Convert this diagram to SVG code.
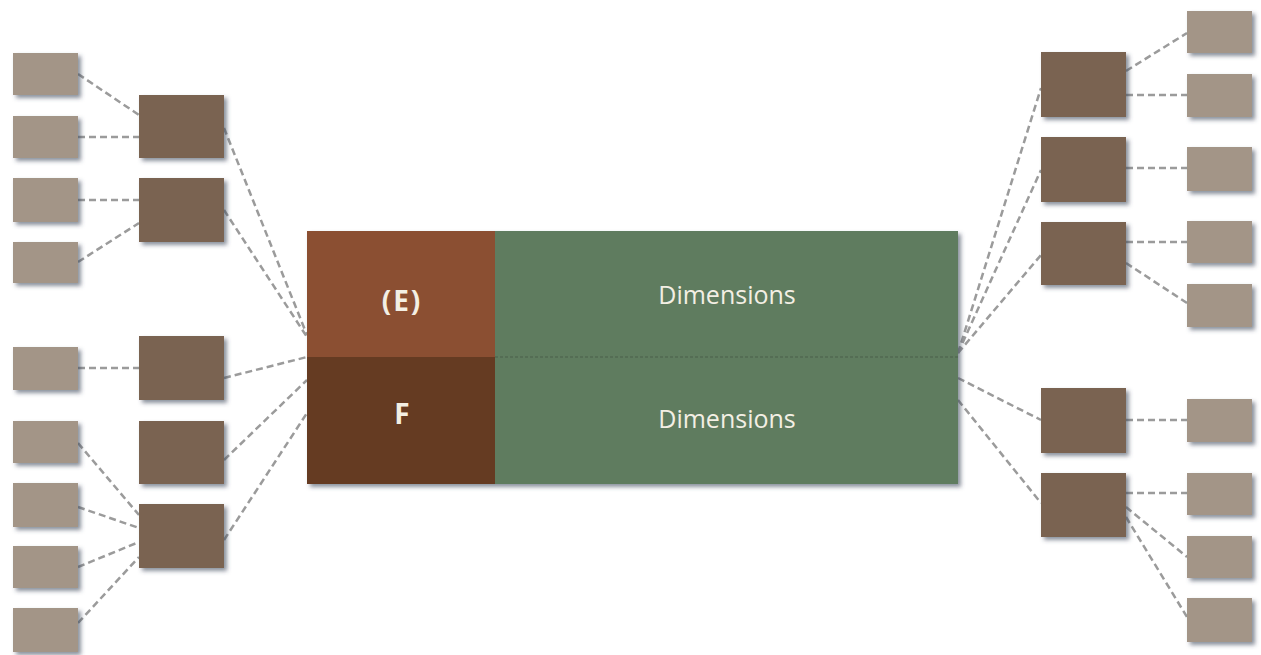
<svg xmlns="http://www.w3.org/2000/svg" width="1261" height="655" viewBox="0 0 1261 655">
<defs>
<filter id="sh" x="-20%" y="-20%" width="150%" height="150%">
<feDropShadow dx="3" dy="3" stdDeviation="2" flood-color="#3d4a5a" flood-opacity="0.6"/>
</filter>
<style>
.lt{fill:#a39587;filter:url(#sh)}
.dk{fill:#7a6451;filter:url(#sh)}
.cn line{stroke:#9b9b9b;stroke-width:2.5;stroke-dasharray:7 4;fill:none}
.lbl{font-family:"Open Sans","DejaVu Sans",sans-serif;fill:#f3efe4;text-anchor:middle}
.b{font-weight:bold;font-size:28px}
.d{font-size:25px}
</style>
</defs>
<rect width="1261" height="655" fill="#ffffff"/>

<g id="connectors" class="cn">
<line x1="78" y1="74" x2="139" y2="115"/>
<line x1="78" y1="137" x2="139" y2="137"/>
<line x1="78" y1="200" x2="139" y2="200"/>
<line x1="78" y1="262" x2="139" y2="223"/>
<line x1="78" y1="368" x2="139" y2="368"/>
<line x1="78" y1="443" x2="139" y2="515"/>
<line x1="78" y1="507" x2="139" y2="528"/>
<line x1="78" y1="567" x2="139" y2="542"/>
<line x1="78" y1="623" x2="139" y2="557"/>
<line x1="224" y1="128" x2="307" y2="335"/>
<line x1="224" y1="210" x2="307" y2="337"/>
<line x1="224" y1="378" x2="307" y2="357"/>
<line x1="224" y1="460" x2="307" y2="380"/>
<line x1="224" y1="540" x2="307" y2="413"/>
<line x1="958" y1="353" x2="1041" y2="88"/>
<line x1="958" y1="353" x2="1041" y2="170"/>
<line x1="958" y1="353" x2="1041" y2="255"/>
<line x1="958" y1="378" x2="1041" y2="420"/>
<line x1="958" y1="400" x2="1041" y2="503"/>
<line x1="1126" y1="71" x2="1187" y2="33"/>
<line x1="1126" y1="95" x2="1187" y2="95"/>
<line x1="1126" y1="168" x2="1187" y2="168"/>
<line x1="1126" y1="242" x2="1187" y2="242"/>
<line x1="1126" y1="263" x2="1187" y2="303"/>
<line x1="1126" y1="420" x2="1187" y2="420"/>
<line x1="1126" y1="493" x2="1187" y2="493"/>
<line x1="1126" y1="507" x2="1187" y2="557"/>
<line x1="1126" y1="517" x2="1187" y2="617"/>
</g>

<g id="center">
<g filter="url(#sh)">
<rect x="307" y="231" width="188" height="126" fill="#8b4f30"/>
<rect x="307" y="357" width="188" height="127" fill="#653a22"/>
<rect x="495" y="231" width="463" height="253" fill="#5e7b5e"/>
</g>
<line x1="495" y1="357" x2="958" y2="357" stroke="#4b5e4a" stroke-width="1" stroke-dasharray="3 2"/>
<text class="lbl b" x="402" y="311" letter-spacing="2">(E)</text>
<text class="lbl b" x="402" y="424">F</text>
<text class="lbl d" x="727" y="304">Dimensions</text>
<text class="lbl d" x="727" y="428">Dimensions</text>
</g>

<g id="left-mid">
<rect id="lm1" class="dk" x="139" y="95" width="85" height="63"/>
<rect id="lm2" class="dk" x="139" y="178" width="85" height="64"/>
<rect id="lm3" class="dk" x="139" y="336" width="85" height="64"/>
<rect id="lm4" class="dk" x="139" y="421" width="85" height="63"/>
<rect id="lm5" class="dk" x="139" y="504" width="85" height="64"/>
</g>
<g id="left-small">
<rect id="ls1" class="lt" x="13" y="53" width="65" height="42"/>
<rect id="ls2" class="lt" x="13" y="116" width="65" height="42"/>
<rect id="ls3" class="lt" x="13" y="178" width="65" height="44"/>
<rect id="ls4" class="lt" x="13" y="242" width="65" height="41"/>
<rect id="ls5" class="lt" x="13" y="347" width="65" height="43"/>
<rect id="ls6" class="lt" x="13" y="421" width="65" height="42"/>
<rect id="ls7" class="lt" x="13" y="483" width="65" height="44"/>
<rect id="ls8" class="lt" x="13" y="546" width="65" height="42"/>
<rect id="ls9" class="lt" x="13" y="608" width="65" height="44"/>
</g>
<g id="right-mid">
<rect id="rm1" class="dk" x="1041" y="52" width="85" height="65"/>
<rect id="rm2" class="dk" x="1041" y="137" width="85" height="65"/>
<rect id="rm3" class="dk" x="1041" y="222" width="85" height="63"/>
<rect id="rm4" class="dk" x="1041" y="388" width="85" height="65"/>
<rect id="rm5" class="dk" x="1041" y="473" width="85" height="64"/>
</g>
<g id="right-small">
<rect id="rs1" class="lt" x="1187" y="11" width="65" height="42"/>
<rect id="rs2" class="lt" x="1187" y="74" width="65" height="43"/>
<rect id="rs3" class="lt" x="1187" y="147" width="65" height="44"/>
<rect id="rs4" class="lt" x="1187" y="221" width="65" height="42"/>
<rect id="rs5" class="lt" x="1187" y="284" width="65" height="43"/>
<rect id="rs6" class="lt" x="1187" y="399" width="65" height="43"/>
<rect id="rs7" class="lt" x="1187" y="473" width="65" height="42"/>
<rect id="rs8" class="lt" x="1187" y="536" width="65" height="42"/>
<rect id="rs9" class="lt" x="1187" y="598" width="65" height="44"/>
</g>
</svg>
